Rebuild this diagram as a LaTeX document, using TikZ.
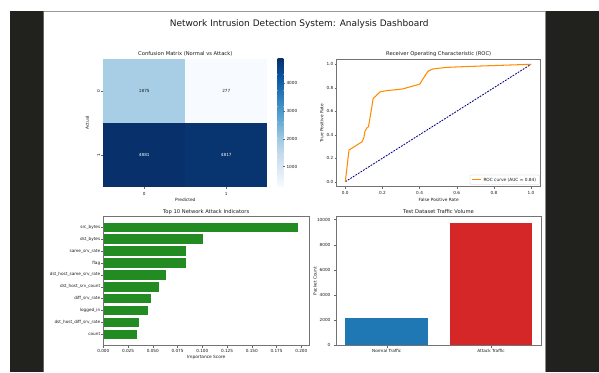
\documentclass[tikz,border=0pt]{standalone}
\usepackage{fontspec}
\setmainfont{DejaVu Sans}
\definecolor{darkbg}{RGB}{33,34,29}
\definecolor{cmA}{HTML}{F7FBFF}
\definecolor{cmB}{HTML}{DEEBF7}
\definecolor{cmC}{HTML}{C6DBEF}
\definecolor{cmD}{HTML}{9ECAE1}
\definecolor{cmE}{HTML}{6BAED6}
\definecolor{cmF}{HTML}{4292C6}
\definecolor{cmG}{HTML}{2171B5}
\definecolor{cmH}{HTML}{08519C}
\definecolor{cmI}{HTML}{08306B}
\definecolor{cellTL}{HTML}{A7CEE4}
\definecolor{cellTR}{HTML}{F7FBFF}
\definecolor{cellBL}{HTML}{08306B}
\definecolor{cellBR}{HTML}{08346F}
\definecolor{rocorange}{HTML}{FF8C00}
\definecolor{navyc}{HTML}{000080}
\definecolor{fgreen}{HTML}{228B22}
\definecolor{mblue}{HTML}{1F77B4}
\definecolor{mred}{HTML}{D62728}
\begin{document}
\begin{tikzpicture}[x=1pt,y=-1pt,
  tk/.style={font=\fontsize{4.2}{4.4}\selectfont, text=black!90, inner sep=0pt},
  alab/.style={font=\fontsize{4.3}{4.5}\selectfont, text=black!90, inner sep=0pt},
  ptitle/.style={font=\fontsize{5.2}{5.5}\selectfont, text=black!90, inner sep=0pt},
  spine/.style={draw=black!55, line width=0.5pt},
  tmark/.style={draw=black!60, line width=0.35pt}]
\useasboundingbox (0,0) rectangle (599,372);
\fill[white] (0,0) rectangle (599,372);
% frame
\fill[darkbg] (10,11) rectangle (43,372);
\fill[darkbg] (546,11) rectangle (599,372);
\draw[black!40, line width=0.6pt] (43,11) -- (546,11);
\draw[black!60, line width=0.6pt] (43.3,11) -- (43.3,372);
\draw[black!45, line width=0.5pt] (545.7,11) -- (545.7,372);
% main title
\node[font=\fontsize{9}{10}\selectfont, text=black!90, inner sep=0pt] (maintitle) at (299.2,24.5) {Network Intrusion Detection System: Analysis Dashboard};

% ===== Confusion matrix =====
\node[ptitle] (cmtitle) at (185.3,54) {Confusion Matrix (Normal vs Attack)};
\fill[cellTL] (103.3,59) rectangle (185.3,122.9);
\fill[cellTR] (185.3,59) rectangle (267.3,122.9);
\fill[cellBL] (103.3,122.9) rectangle (185.3,186.7);
\fill[cellBR] (185.3,122.9) rectangle (267.3,186.7);
\node[tk] (v00) at (144.3,91) {1875};
\node[tk] (v01) at (226.3,91) {277};
\node[tk, text=white] (v10) at (144.3,154.8) {4881};
\node[tk, text=white] (v11) at (226.3,154.8) {4817};
\draw[tmark] (101.3,91) -- (103.3,91);
\draw[tmark] (101.3,154.8) -- (103.3,154.8);
\node[tk, rotate=90] (cmy0) at (98.6,91) {0};
\node[tk, rotate=90] (cmy1) at (98.6,154.8) {1};
\draw[tmark] (144.3,186.7) -- (144.3,188.7);
\draw[tmark] (226.3,186.7) -- (226.3,188.7);
\node[tk] (cmx0) at (144.3,193.6) {0};
\node[tk] (cmx1) at (226.3,193.6) {1};
\node[alab, rotate=90] (cmylab) at (87.3,122.9) {Actual};
\node[alab] (cmxlab) at (185.3,200.3) {Predicted};
% colorbar
\foreach \i/\ca/\cb in {0/cmA/cmB,1/cmB/cmC,2/cmC/cmD,3/cmD/cmE,4/cmE/cmF,5/cmF/cmG,6/cmG/cmH,7/cmH/cmI}
  \shade[bottom color=\ca, top color=\cb] (277.7,{186.7-\i*15.9625}) rectangle (283.3,{186.7-(\i+1)*15.9625-0.2});
\foreach \v in {1000,2000,3000,4000} {
  \pgfmathsetmacro{\yy}{186.7-(\v-277)/4604*127.7}
  \draw[tmark] (283.3,\yy) -- (285.3,\yy);
  \node[tk, anchor=west] at (286.3,\yy) {\v};
}

% ===== ROC =====
\node[ptitle] (roctitle) at (438.7,54) {Receiver Operating Characteristic (ROC)};
\foreach \k/\l in {0/0.0,1/0.2,2/0.4,3/0.6,4/0.8,5/1.0} {
  \pgfmathsetmacro{\xx}{345.3+\k*37.14}
  \pgfmathsetmacro{\yy}{181.7-\k*23.48}
  \draw[tmark] (\xx,186.7) -- (\xx,188.7);
  \node[tk] at (\xx,193.3) {\l};
  \draw[tmark] (334.7,\yy) -- (336.7,\yy);
  \node[tk, anchor=east] at (333.4,\yy) {\l};
}
\node[alab] (rocxlab) at (438.7,200) {False Positive Rate};
\node[alab, rotate=90] (rocylab) at (321.7,122.9) {True Positive Rate};
\begin{scope}[shift={(345.3,181.7)}, x=185.7pt, y=117.4pt]
  \draw[navyc, dashed, dash pattern=on 1.8pt off 1.2pt, line width=0.85pt] (0,0) -- (1,1);
  \draw[rocorange, line width=1.05pt, line join=round] (0,0) -- (0.02,0.27) -- (0.09,0.34) -- (0.10,0.375) -- (0.106,0.43) -- (0.115,0.455) -- (0.125,0.47) -- (0.14,0.61) -- (0.15,0.71) -- (0.165,0.73) -- (0.187,0.765) -- (0.22,0.775) -- (0.31,0.79) -- (0.33,0.80) -- (0.40,0.83) -- (0.42,0.88) -- (0.445,0.94) -- (0.47,0.96) -- (0.546,0.974) -- (0.74,0.986) -- (1,1);
\end{scope}
\draw[spine] (336.7,59) rectangle (540.7,186.7);
\draw[black!20, fill=white, rounded corners=1pt, line width=0.3pt] (470,175) rectangle (539.3,184.3);
\draw[rocorange, line width=1.05pt] (472.3,179.7) -- (480.7,179.7);
\node[alab, anchor=west] (legtext) at (483.3,179.7) {ROC curve (AUC = 0.84)};

% ===== Feature importance =====
\node[ptitle] (fititle) at (206.2,211.7) {Top 10 Network Attack Indicators};
\foreach \i/\lab/\xe in {0/src\_bytes/298.3, 1/dst\_bytes/202.7, 2/same\_srv\_rate/186.3, 3/flag/186.3, 4/dst\_host\_same\_srv\_rate/166.3, 5/dst\_host\_srv\_count/159, 6/diff\_srv\_rate/151, 7/logged\_in/147.7, 8/dst\_host\_diff\_srv\_rate/138.7, 9/count/136.7} {
  \pgfmathsetmacro{\yc}{227.3+\i*11.89}
  \fill[fgreen] (103.3,\yc-4.75) rectangle (\xe,\yc+4.75);
  \draw[tmark] (101.3,\yc) -- (103.3,\yc);
  \node[tk, anchor=east] at (100.4,\yc) {\lab};
}
\foreach \k/\l in {0/0.000,1/0.025,2/0.050,3/0.075,4/0.100,5/0.125,6/0.150,7/0.175,8/0.200} {
  \pgfmathsetmacro{\xx}{103.3+\k*24.75}
  \draw[tmark] (\xx,345.7) -- (\xx,347.7);
  \node[tk] at (\xx,350.8) {\l};
}
\draw[spine] (103.3,216.7) rectangle (309,345.7);
\node[alab] (fixlab) at (206.2,357.7) {Importance Score};

% ===== Traffic volume =====
\node[ptitle] (tvtitle) at (438.5,211.7) {Test Dataset Traffic Volume};
\fill[mblue] (345.3,318.2) rectangle (428.1,345.5);
\fill[mred] (449.6,223.3) rectangle (532.4,345.5);
\foreach \v in {0,2000,4000,6000,8000,10000} {
  \pgfmathsetmacro{\yy}{345.3-\v*0.012575}
  \draw[tmark] (334,\yy) -- (336,\yy);
  \node[tk, anchor=east] at (330.6,\yy) {\v};
}
\draw[spine] (336,216.7) rectangle (541,345.5);
\draw[tmark] (386.7,345.5) -- (386.7,347.5);
\draw[tmark] (491,345.5) -- (491,347.5);
\node[tk] (tvx0) at (386.7,350.8) {Normal Traffic};
\node[tk] (tvx1) at (491,350.8) {Attack Traffic};
\node[alab, rotate=90] (tvylab) at (315,281) {Packet Count};
\end{tikzpicture}
\end{document}
